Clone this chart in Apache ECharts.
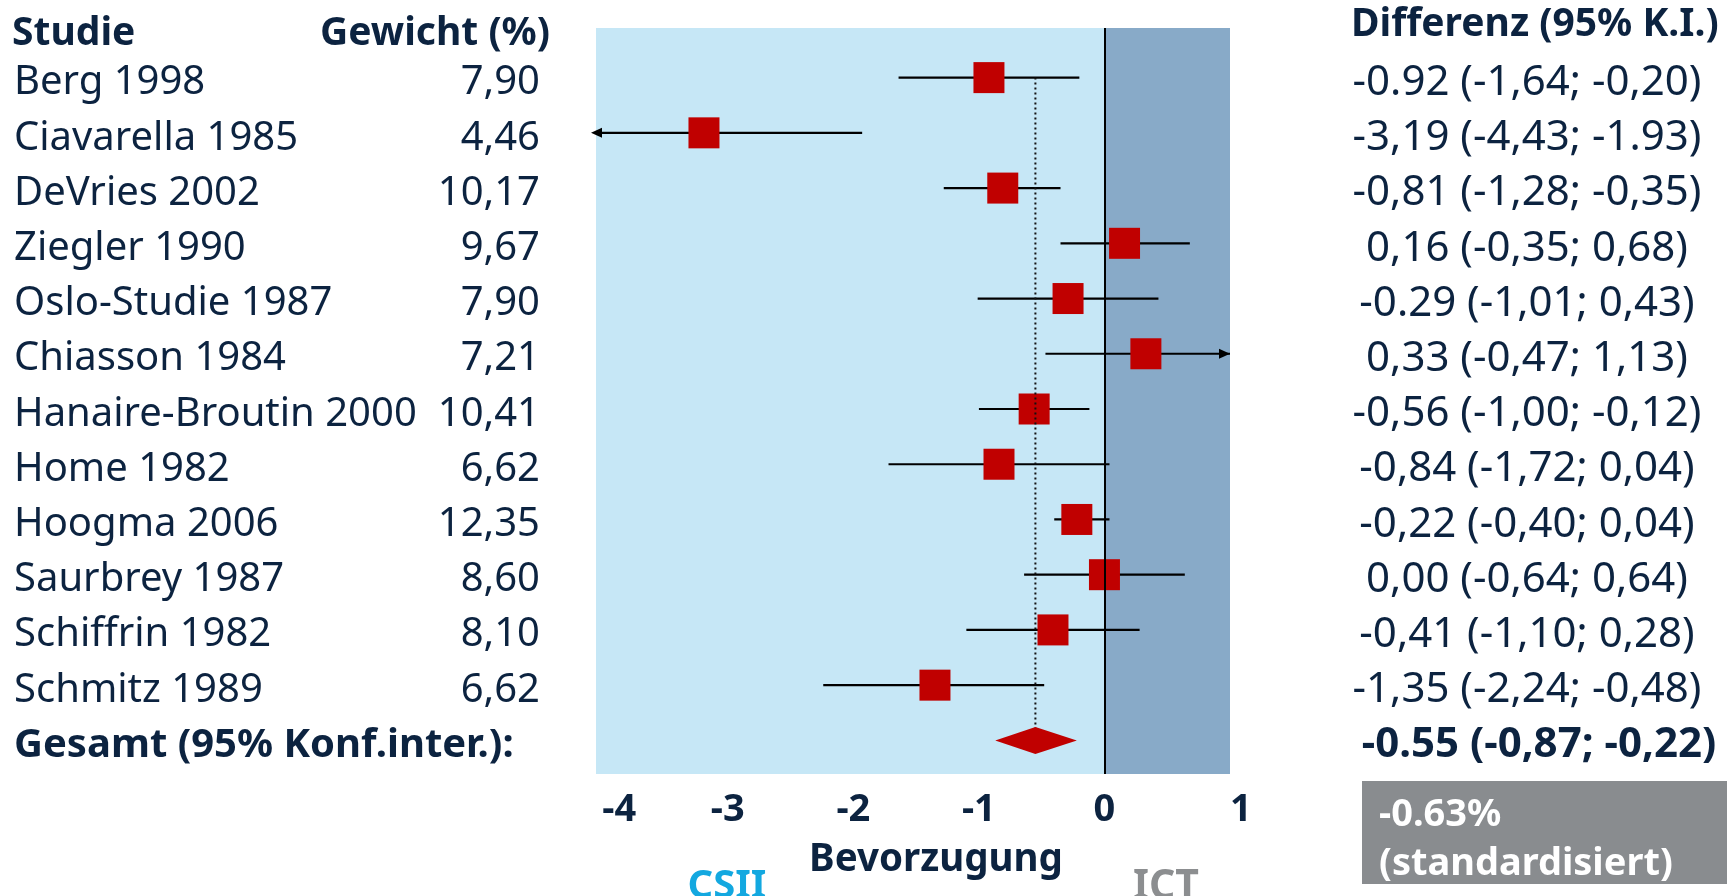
<!DOCTYPE html>
<html>
<head>
<meta charset="utf-8">
<script src="https://cdn.jsdelivr.net/npm/echarts@6/dist/echarts.min.js"></script>
<style>
  html, body { margin: 0; padding: 0; background: #ffffff; }
  #chart { width: 1727px; height: 896px; }
</style>
</head>
<body>
<div id="chart"></div>
<script>
// Studies of the meta-analysis (CSII vs. ICT), in display order
const studies = [
  'Berg 1998', 'Ciavarella 1985', 'DeVries 2002', 'Ziegler 1990',
  'Oslo-Studie 1987', 'Chiasson 1984', 'Hanaire-Broutin 2000', 'Home 1982',
  'Hoogma 2006', 'Saurbrey 1987', 'Schiffrin 1982', 'Schmitz 1989'
];
const weights = ['7,90', '4,46', '10,17', '9,67', '7,90', '7,21', '10,41', '6,62', '12,35', '8,60', '8,10', '6,62'];
const estimates = [-0.92, -3.19, -0.81, 0.16, -0.29, 0.33, -0.56, -0.84, -0.22, 0.00, -0.41, -1.35];
const lower     = [-1.64, -4.43, -1.28, -0.35, -1.01, -0.47, -1.00, -1.72, -0.40, -0.64, -1.10, -2.24];
const upper     = [-0.20, -1.93, -0.35, 0.68, 0.43, 1.13, -0.12, 0.04, 0.04, 0.64, 0.28, -0.48];
const diffLabels = [
  '-0.92 (-1,64; -0,20)', '-3,19 (-4,43; -1.93)', '-0,81 (-1,28; -0,35)', '0,16 (-0,35; 0,68)',
  '-0.29 (-1,01; 0,43)', '0,33 (-0,47; 1,13)', '-0,56 (-1,00; -0,12)', '-0,84 (-1,72; 0,04)',
  '-0,22 (-0,40; 0,04)', '0,00 (-0,64; 0,64)', '-0,41 (-1,10; 0,28)', '-1,35 (-2,24; -0,48)'
];

// Pooled result
const pooledName = 'Gesamt (95% Konf.inter.):';
const pooledEstimate = -0.55;
const pooledLower = -0.87;
const pooledUpper = -0.22;
const pooledLabel = '-0.55 (-0,87; -0,22)';
const standardized = ['-0.63%', '(standardisiert)'];

// Axis
const xTicks = [-4, -3, -2, -1, 0, 1];
const xMin = -4.05;
const xMax = 1;

const rows = studies.concat([pooledName]);
const pooledRow = rows.length - 1;

const NAVY = '#0C2340';
const FONT = 'Noto Sans';

const chart = echarts.init(document.getElementById('chart'), null, { renderer: 'canvas' });

const gridLeft = 596, gridRight = 1727 - 1230;
const hiddenAxis = { axisLine: { show: false }, axisTick: { show: false }, splitLine: { show: false } };

const option = {
  animation: false,
  backgroundColor: '#ffffff',
  textStyle: { fontFamily: FONT },
  grid: [
    // shaded plot panel
    { left: gridLeft, right: gridRight, top: 28, bottom: 122, show: true, backgroundColor: '#C6E7F6', borderWidth: 0 },
    // marker rows
    { left: gridLeft, right: gridRight, top: 50, bottom: 128 },
    // table text rows (a few pixels below the markers)
    { left: gridLeft, right: gridRight, top: 55.5, bottom: 123 }
  ],
  xAxis: [
    {
      gridIndex: 0, type: 'value', min: xMin, max: xMax, ...hiddenAxis,
      axisLabel: {
        customValues: xTicks, margin: 17, color: NAVY, fontSize: 38, fontWeight: 'bold',
        fontFamily: FONT, alignMinLabel: 'left', alignMaxLabel: 'left'
      }
    },
    { gridIndex: 1, type: 'value', min: xMin, max: xMax, show: false },
    { gridIndex: 2, type: 'value', min: xMin, max: xMax, show: false }
  ],
  yAxis: [
    { gridIndex: 0, type: 'value', min: 0, max: 1, show: false },
    { gridIndex: 1, type: 'category', data: rows, inverse: true, show: false },
    {
      // study names
      gridIndex: 2, type: 'category', data: rows, inverse: true, position: 'left', ...hiddenAxis,
      axisLabel: {
        interval: 0, align: 'left', margin: gridLeft - 14, color: NAVY, fontSize: 40, fontFamily: FONT,
        formatter: (v, i) => i === pooledRow ? '{b|' + v + '}' : v,
        rich: { b: { fontWeight: 'bold', fontSize: 40, color: NAVY, fontFamily: FONT } }
      }
    },
    {
      // weights
      gridIndex: 2, type: 'category', data: rows, inverse: true, position: 'left', ...hiddenAxis,
      axisLabel: {
        interval: 0, align: 'right', margin: gridLeft - 540, color: NAVY, fontSize: 40, fontFamily: FONT,
        formatter: (v, i) => i < weights.length ? weights[i] : ''
      }
    },
    {
      // differences with confidence intervals
      gridIndex: 2, type: 'category', data: rows, inverse: true, position: 'right', ...hiddenAxis,
      axisLabel: {
        interval: 0, align: 'center', margin: 1527 - 1230, color: NAVY, fontSize: 42, fontFamily: FONT,
        formatter: (v, i) => i < diffLabels.length ? diffLabels[i] : '{b|' + pooledLabel + '}',
        rich: { b: { fontWeight: 'bold', fontSize: 42, color: NAVY, fontFamily: FONT, padding: [0, 0, 0, 24] } }
      }
    }
  ],
  series: [
    {
      // ICT-favouring region and the line of no difference
      type: 'line', xAxisIndex: 0, yAxisIndex: 0, data: [], z: 1, silent: true,
      markArea: {
        silent: true,
        itemStyle: { color: '#88AAC8' },
        data: [[{ xAxis: 0 }, { xAxis: xMax }]]
      },
      markLine: {
        silent: true, symbol: 'none', label: { show: false },
        lineStyle: { color: '#000000', width: 2, type: 'solid' },
        data: [{ xAxis: 0 }]
      }
    },
    {
      // Confidence intervals, with arrows where they leave the axis range
      type: 'custom', xAxisIndex: 1, yAxisIndex: 1, z: 3, clip: false,
      encode: { x: [0, 1], y: 2 },
      data: studies.map((s, i) => [lower[i], upper[i], i]),
      renderItem: (params, api) => {
        const lo = api.value(0), hi = api.value(1), row = api.value(2);
        const p1 = api.coord([Math.max(lo, xMin), row]);
        const p2 = api.coord([Math.min(hi, xMax), row]);
        const children = [{
          type: 'line',
          shape: { x1: p1[0], y1: p1[1], x2: p2[0], y2: p2[1] },
          style: { stroke: '#000000', lineWidth: 2.2 }
        }];
        if (lo < xMin) {
          const x = p1[0] - 5, y = p1[1];
          children.push({ type: 'polygon', shape: { points: [[x, y], [x + 11, y - 5], [x + 11, y + 5]] }, style: { fill: '#000000' } });
        }
        if (hi > xMax) {
          const x = p2[0], y = p2[1];
          children.push({ type: 'polygon', shape: { points: [[x, y], [x - 11, y - 5], [x - 11, y + 5]] }, style: { fill: '#000000' } });
        }
        return { type: 'group', children };
      }
    },
    {
      // Point estimates
      type: 'scatter', xAxisIndex: 1, yAxisIndex: 1, z: 4,
      symbol: 'rect', symbolSize: 31,
      itemStyle: { color: '#C00000', opacity: 1 },
      emphasis: { disabled: true },
      data: studies.map((s, i) => [estimates[i], i])
    },
    {
      // Reference line at the pooled estimate
      type: 'line', xAxisIndex: 1, yAxisIndex: 1, z: 5, symbol: 'none', silent: true,
      lineStyle: { color: '#111111', width: 2, type: [2, 3] },
      data: [[pooledEstimate, 0], [pooledEstimate, pooledRow]]
    },
    {
      // Pooled estimate diamond
      type: 'custom', xAxisIndex: 1, yAxisIndex: 1, z: 6,
      encode: { x: [0, 1, 2], y: 3 },
      data: [[pooledLower, pooledEstimate, pooledUpper, pooledRow]],
      renderItem: (params, api) => {
        const l = api.coord([api.value(0), api.value(3)]);
        const c = api.coord([api.value(1), api.value(3)]);
        const r = api.coord([api.value(2), api.value(3)]);
        const h = 13.5;
        return {
          type: 'polygon',
          shape: { points: [[l[0], c[1]], [c[0], c[1] - h], [r[0], c[1]], [c[0], c[1] + h]] },
          style: { fill: '#C00000' }
        };
      }
    }
  ],
  graphic: [
    { type: 'text', left: 12, top: 14, style: { text: 'Studie', font: 'bold 39px "Noto Sans"', fill: NAVY } },
    { type: 'text', right: 1727 - 550, top: 14, style: { text: 'Gewicht (%)', font: 'bold 39px "Noto Sans"', fill: NAVY } },
    { type: 'text', left: 1351, top: 5, style: { text: 'Differenz (95% K.I.)', font: 'bold 39px "Noto Sans"', fill: NAVY } },
    { type: 'text', x: 936, y: 860, style: { text: 'Bevorzugung', font: 'bold 38.5px "Noto Sans"', fill: NAVY, align: 'center', verticalAlign: 'middle' } },
    { type: 'text', x: 727, y: 887, style: { text: 'CSII', font: 'bold 40px "Noto Sans"', fill: '#13A8E0', align: 'center', verticalAlign: 'middle' } },
    { type: 'text', x: 1166, y: 887, style: { text: 'ICT', font: 'bold 41px "Noto Sans"', fill: '#8C8E90', align: 'center', verticalAlign: 'middle' } },
    { type: 'rect', shape: { x: 1362, y: 781, width: 365, height: 103 }, style: { fill: '#898C8F' } },
    { type: 'text', x: 1379, y: 815, style: { text: standardized[0], font: 'bold 38px "Noto Sans"', fill: '#ffffff', verticalAlign: 'middle' } },
    { type: 'text', x: 1379, y: 864, style: { text: standardized[1], font: 'bold 38px "Noto Sans"', fill: '#ffffff', verticalAlign: 'middle' } }
  ]
};

chart.setOption(option);
</script>
</body>
</html>
